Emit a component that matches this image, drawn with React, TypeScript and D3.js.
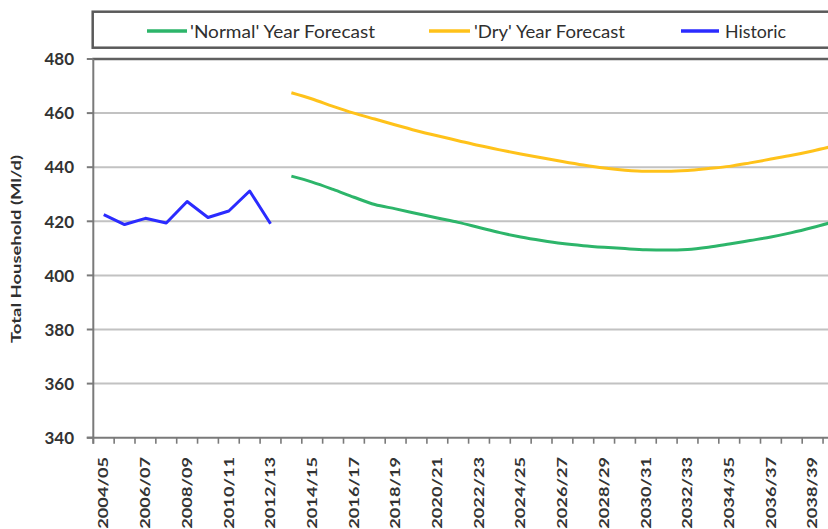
import React from "react";
import * as d3 from "d3";

const categories: string[] = [
  "2004/05", "2005/06", "2006/07", "2007/08", "2008/09", "2009/10", "2010/11", "2011/12",
  "2012/13", "2013/14", "2014/15", "2015/16", "2016/17", "2017/18", "2018/19", "2019/20",
  "2020/21", "2021/22", "2022/23", "2023/24", "2024/25", "2025/26", "2026/27", "2027/28",
  "2028/29", "2029/30", "2030/31", "2031/32", "2032/33", "2033/34", "2034/35", "2035/36",
  "2036/37", "2037/38", "2038/39", "2039/40",
];

const historicCats: string[] = categories.slice(0, 9);
const historic: number[] = [422.5, 418.8, 421.1, 419.4, 427.3, 421.4, 423.8, 431.2, 419.1];

const forecastCats: string[] = categories.slice(9);
const normalForecast: number[] = [
  436.7, 434.5, 431.8, 428.9, 426.2, 424.6, 422.9, 421.2, 419.6, 417.7, 415.8, 414.2, 412.9,
  411.8, 411.0, 410.4, 409.9, 409.5, 409.4, 409.6, 410.4, 411.6, 412.9, 414.2, 415.8, 417.7, 419.8,
];
const dryForecast: number[] = [
  467.5, 465.2, 462.5, 460.0, 457.8, 455.6, 453.5, 451.6, 449.8, 448.0, 446.4, 444.9, 443.5,
  442.1, 440.8, 439.7, 438.9, 438.5, 438.5, 438.8, 439.5, 440.3, 441.6, 443.0, 444.4, 446.0, 447.8,
];

const yTicks: number[] = [340, 360, 380, 400, 420, 440, 460, 480];
const xTickLabels: string[] = categories.filter((_, i) => i % 2 === 0);

const legendItems = [
  { label: "'Normal' Year Forecast", color: "#2DB56A" },
  { label: "'Dry' Year Forecast", color: "#FFC21A" },
  { label: "Historic", color: "#2B2BFF" },
];

const W = 828;
const H = 529;
const LEFT = 93.3;
const STEP = 20.85;
const TOP = 59;
const BOTTOM = 437.7;
const FONT = "Lato, 'Open Sans', sans-serif";

export default function App() {
  const x = d3
    .scaleBand<string>()
    .domain(categories)
    .range([LEFT, LEFT + STEP * categories.length])
    .paddingInner(0)
    .paddingOuter(0);
  const xc = (c: string) => (x(c) as number) + x.bandwidth() / 2;
  const y = d3.scaleLinear().domain([340, 480]).range([BOTTOM, TOP]);

  const linear = d3
    .line<[string, number]>()
    .x((d) => xc(d[0]))
    .y((d) => y(d[1]));
  const smooth = d3
    .line<[string, number]>()
    .x((d) => xc(d[0]))
    .y((d) => y(d[1]))
    .curve(d3.curveMonotoneX);

  const histPath = linear(historicCats.map((c, i) => [c, historic[i]] as [string, number]));
  const normPath = smooth(forecastCats.map((c, i) => [c, normalForecast[i]] as [string, number]));
  const dryPath = smooth(forecastCats.map((c, i) => [c, dryForecast[i]] as [string, number]));

  const legendLayout = [
    { x1: 147, x2: 187, tx: 190, tw: 185 },
    { x1: 429, x2: 470, tx: 474, tw: 151 },
    { x1: 681, x2: 719, tx: 725, tw: 61 },
  ];

  const boundaries = d3.range(categories.length + 1).map((i) => LEFT + i * STEP);

  return (
    <svg
      width={W}
      height={H}
      viewBox={`0 0 ${W} ${H}`}
      style={{ position: "absolute", left: 0, top: 0, background: "#fff", overflow: "hidden" }}
    >
      <rect x={0} y={0} width={W} height={H} fill="#ffffff" />

      {/* Legend */}
      <rect x={92.7} y={11.7} width={800} height={36} fill="#fff" stroke="#5a5a5a" strokeWidth={2.5} />
      {legendItems.map((it, i) => (
        <g key={it.label}>
          <line
            x1={legendLayout[i].x1}
            x2={legendLayout[i].x2}
            y1={31}
            y2={31}
            stroke={it.color}
            strokeWidth={3.5}
          />
          <text
            x={legendLayout[i].tx}
            y={37.6}
            fontFamily={FONT}
            fontSize={18}
            fill="#2f2f2f"
            textLength={legendLayout[i].tw}
            lengthAdjust="spacingAndGlyphs"
          >
            {it.label}
          </text>
        </g>
      ))}

      {/* Gridlines */}
      {yTicks
        .filter((t) => t !== 340 && t !== 480)
        .map((t) => (
          <line key={t} x1={LEFT} x2={W + 20} y1={y(t)} y2={y(t)} stroke="#c2c2c2" strokeWidth={2} />
        ))}
      {/* top frame */}
      <line x1={LEFT - 1} x2={W + 20} y1={y(480)} y2={y(480)} stroke="#606060" strokeWidth={2.5} />

      {/* Y axis */}
      <line x1={LEFT} x2={LEFT} y1={TOP} y2={BOTTOM + 6} stroke="#7a7a7a" strokeWidth={2} />
      {yTicks.map((t) => (
        <line key={t} x1={LEFT - 6.5} x2={LEFT} y1={y(t)} y2={y(t)} stroke="#7a7a7a" strokeWidth={2} />
      ))}
      {yTicks.map((t) => (
        <text
          key={t}
          x={74}
          y={y(t) + 6.2}
          textAnchor="end"
          fontFamily={FONT}
          fontWeight="bold"
          fontSize={17}
          fill="#333"
        >
          {t}
        </text>
      ))}

      {/* X axis */}
      <line x1={LEFT - 6.5} x2={W + 20} y1={BOTTOM} y2={BOTTOM} stroke="#7a7a7a" strokeWidth={2} />
      {boundaries.map((bx, i) => (
        <line key={i} x1={bx} x2={bx} y1={BOTTOM} y2={BOTTOM + 6} stroke="#7a7a7a" strokeWidth={1.6} />
      ))}
      {xTickLabels.map((c) => (
        <text
          key={c}
          transform={`translate(${xc(c) + 4.7},457) rotate(-90) scale(1.4,1)`}
          textAnchor="end"
          fontFamily={FONT}
          fontWeight="bold"
          fontSize={13}
          fill="#333"
        >
          {c}
        </text>
      ))}

      {/* Y title */}
      <text
        transform="translate(21,249) rotate(-90) scale(1.42,1)"
        textAnchor="middle"
        fontFamily={FONT}
        fontWeight="bold"
        fontSize={13}
        fill="#2f2f2f"
      >
        Total Household (Ml/d)
      </text>

      {/* Series */}
      <path d={normPath || ""} fill="none" stroke="#2DB56A" strokeWidth={3} strokeLinejoin="round" />
      <path d={dryPath || ""} fill="none" stroke="#FFC21A" strokeWidth={3} strokeLinejoin="round" />
      <path d={histPath || ""} fill="none" stroke="#2B2BFF" strokeWidth={3} strokeLinejoin="round" />
    </svg>
  );
}
